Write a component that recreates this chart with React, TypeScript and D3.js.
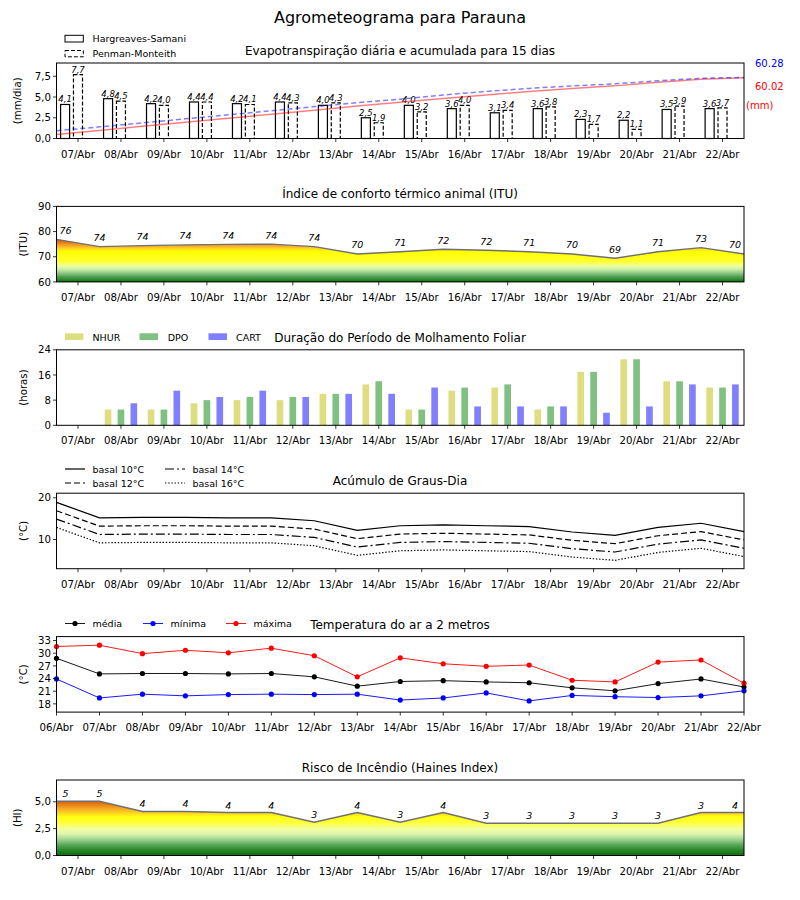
import React from 'react';
import * as d3 from 'd3';

// ---- data ----
const dayLabels = ['07/Abr', '08/Abr', '09/Abr', '10/Abr', '11/Abr', '12/Abr', '13/Abr', '14/Abr',
  '15/Abr', '16/Abr', '17/Abr', '18/Abr', '19/Abr', '20/Abr', '21/Abr', '22/Abr'];
const tempDayLabels = ['06/Abr', '07/Abr', '08/Abr', '09/Abr', '10/Abr', '11/Abr', '12/Abr', '13/Abr', '14/Abr',
  '15/Abr', '16/Abr', '17/Abr', '18/Abr', '19/Abr', '20/Abr', '21/Abr', '22/Abr'];

const etHS = [4.1, 4.8, 4.2, 4.4, 4.2, 4.4, 4.0, 2.5, 4.0, 3.6, 3.1, 3.6, 2.3, 2.2, 3.5, 3.6];
const etPM = [7.7, 4.5, 4.0, 4.4, 4.1, 4.3, 4.3, 1.9, 3.2, 4.0, 3.4, 3.8, 1.7, 1.1, 3.9, 3.7];
const accHS = [4.0, 8.0, 12.0, 16.0, 20.0, 24.0, 28.0, 32.0, 35.8, 39.5, 43.0, 46.5, 49.5, 52.0, 55.5, 58.5, 60.02];
const accPM = [7.6, 11.5, 15.5, 19.5, 23.5, 27.5, 31.5, 35.5, 38.8, 43.0, 46.5, 49.5, 52.0, 54.0, 57.0, 59.5, 60.28];
const accTotalHS = '60.02';
const accTotalPM = '60.28';
const etTicks = [0, 2.5, 5, 7.5];

const itu = [76.9, 74.0, 74.4, 74.7, 74.9, 75.0, 74.0, 71.1, 72.0, 73.0, 72.6, 72.0, 71.1, 69.4, 72.0, 73.6, 71.1];
const ituLabels = [76, 74, 74, 74, 74, 74, 74, 70, 71, 72, 72, 71, 70, 69, 71, 73, 70];
const ituTicks = [60, 70, 80, 90];

const nhur = [0, 5, 5, 7, 8, 8, 10, 13, 5, 11, 12, 5, 17, 21, 14, 12];
const dpo = [0, 5, 5, 8, 9, 9, 10, 14, 5, 12, 13, 6, 17, 21, 14, 12];
const cart = [0, 7, 11, 9, 11, 9, 10, 10, 12, 6, 6, 6, 4, 6, 13, 13];
const wetTicks = [0, 8, 16, 24];

const gd10 = [18.9, 15.2, 15.3, 15.3, 15.2, 15.2, 14.5, 12.2, 13.3, 13.5, 13.3, 13.1, 11.8, 11.0, 12.9, 13.9, 11.9];
const gd12 = [16.9, 13.2, 13.3, 13.3, 13.2, 13.2, 12.5, 10.2, 11.3, 11.5, 11.3, 11.1, 9.8, 9.0, 10.9, 11.9, 9.9];
const gd14 = [14.9, 11.2, 11.3, 11.3, 11.2, 11.2, 10.5, 8.2, 9.3, 9.5, 9.3, 9.1, 7.8, 7.0, 8.9, 9.9, 7.9];
const gd16 = [12.9, 9.2, 9.3, 9.3, 9.2, 9.2, 8.5, 6.2, 7.3, 7.5, 7.3, 7.1, 5.8, 5.0, 6.9, 7.9, 5.9];
const gdTicks = [10, 20];

const tMean = [28.8, 25.1, 25.2, 25.2, 25.1, 25.2, 24.4, 22.2, 23.3, 23.5, 23.2, 23.0, 21.8, 21.1, 22.8, 23.9, 22.0];
const tMin = [23.9, 19.4, 20.3, 19.9, 20.2, 20.3, 20.2, 20.3, 18.9, 19.4, 20.6, 18.7, 20.0, 19.7, 19.5, 19.9, 21.1];
const tMax = [31.6, 31.9, 29.9, 30.7, 30.1, 31.2, 29.4, 24.4, 28.9, 27.5, 26.9, 27.2, 23.6, 23.2, 27.9, 28.4, 22.9];
const tempTicks = [18, 21, 24, 27, 30, 33];

const haines = [5.05, 5.05, 4.1, 4.1, 4.0, 4.0, 3.1, 4.0, 3.1, 4.0, 3.0, 3.0, 3.0, 3.0, 3.0, 4.0, 4.0];
const hainesLabels = [5, 5, 4, 4, 4, 4, 3, 4, 3, 4, 3, 3, 3, 3, 3, 3, 4];
const hainesTicks = [0, 2.5, 5];

const ituStops: [number, string][] = [
  [60, '#0d6b0d'], [61, '#2f8a2f'], [62, '#4e9e4e'], [63, '#78b878'], [64, '#a3d68f'],
  [65, '#c9eea5'], [66, '#e6fba5'], [67, '#f6ff7a'], [68, '#ffff30'], [72, '#ffff00'],
  [73, '#fde01a'], [74, '#f7b52a'], [75, '#f0951c'], [76, '#e4700f'], [77, '#d8500a'], [90, '#c03000'],
];
const hainesStops: [number, string][] = [
  [0, '#0d6b0d'], [0.5, '#2a862a'], [1.0, '#5aa85a'], [1.5, '#9fd490'], [2.0, '#dcf5b0'],
  [2.5, '#f5ffa0'], [3.0, '#ffff40'], [3.6, '#ffff10'], [4.0, '#fcd020'], [4.4, '#f3a523'],
  [4.8, '#e57a14'], [5.1, '#d85a0c'], [7, '#c04000'],
];

// ---- layout ----
const FONT = 'DejaVu Sans, Verdana, sans-serif';
const X0 = 56.5;
const X1 = 744;
const PH = 75.5;
const TOPS = [63, 206.4, 349.8, 493.2, 636.6, 780];
const x = d3.scaleLinear().domain([0, 16]).range([X0, X1]);
const comma = (v: number) => d3.format('.1f')(v).replace('.', ',');

const Frame = ({ top }: { top: number }) => (
  <rect x={X0} y={top} width={X1 - X0} height={PH} fill="none" stroke="#000" strokeWidth={1} />
);

const XAxis = ({ top, positions, labels }: { top: number; positions: number[]; labels: string[] }) => {
  const y0 = top + PH;
  return (
    <g>
      {positions.map((p, i) => (
        <g key={i}>
          <line x1={x(p)} x2={x(p)} y1={y0} y2={y0 + 3.5} stroke="#000" strokeWidth={0.8} />
          <text x={x(p)} y={y0 + 19} textAnchor="middle" fontSize={10.2}>{labels[i]}</text>
        </g>
      ))}
    </g>
  );
};

const YAxis = ({ y, ticks, fmt, label, labelX }: {
  y: d3.ScaleLinear<number, number>; ticks: number[]; fmt: (v: number) => string; label: string; labelX: number;
}) => {
  const [b, t] = y.range();
  return (
    <g>
      {ticks.map((v, i) => (
        <g key={i}>
          <line x1={X0 - 3.5} x2={X0} y1={y(v)} y2={y(v)} stroke="#000" strokeWidth={0.8} />
          <text x={X0 - 5.5} y={y(v)} dy="0.36em" textAnchor="end" fontSize={10.2}>{fmt(v)}</text>
        </g>
      ))}
      <text transform={`translate(${labelX},${(b + t) / 2}) rotate(-90)`} textAnchor="middle" fontSize={10.2}>{label}</text>
    </g>
  );
};

const Title = ({ top, text }: { top: number; text: string }) => (
  <text x={400} y={top - 8} textAnchor="middle" fontSize={12}>{text}</text>
);

const Gradient = ({ id, y, stops }: { id: string; y: d3.ScaleLinear<number, number>; stops: [number, string][] }) => {
  const [d0, d1] = y.domain();
  return (
    <linearGradient id={id} gradientUnits="userSpaceOnUse" x1={0} x2={0} y1={y(d0)} y2={y(d1)}>
      {stops.map(([v, c], i) => (
        <stop key={i} offset={(v - d0) / (d1 - d0)} stopColor={c} />
      ))}
    </linearGradient>
  );
};

const labelX = (i: number) => Math.min(Math.max(x(i), X0 + 9), X1 - 9);

export default function App() {
  const dayPos = dayLabels.map((_, i) => i + 0.5);

  // panel 1
  const yEt = d3.scaleLinear().domain([0, 9.1]).range([TOPS[0] + PH, TOPS[0]]);
  const yAcc = d3.scaleLinear().domain([0, 74.6]).range([TOPS[0] + PH, TOPS[0]]);
  const bw1 = x(0.21) - x(0);
  const accLine = d3.line<number>().x((_, i) => x(i)).y(d => yAcc(d));

  // panel 2
  const yItu = d3.scaleLinear().domain([60, 90]).range([TOPS[1] + PH, TOPS[1]]);
  const ituArea = d3.area<number>().x((_, i) => x(i)).y0(yItu(60)).y1(d => yItu(d));
  const ituLine = d3.line<number>().x((_, i) => x(i)).y(d => yItu(d));

  // panel 3
  const yWet = d3.scaleLinear().domain([0, 24]).range([TOPS[2] + PH, TOPS[2]]);
  const bw3 = x(0.155) - x(0);
  const wetSeries = [
    { vals: nhur, off: 0.2, color: '#dede80', name: 'NHUR' },
    { vals: dpo, off: 0.5, color: '#80c080', name: 'DPO' },
    { vals: cart, off: 0.8, color: '#8080ff', name: 'CART' },
  ];

  // panel 4
  const yGd = d3.scaleLinear().domain([3.0, 21.1]).range([TOPS[3] + PH, TOPS[3]]);
  const gdLine = d3.line<number>().x((_, i) => x(i)).y(d => yGd(d));
  const gdSeries = [
    { vals: gd10, dash: undefined, name: 'basal 10°C', lx: 65, ly: 469 },
    { vals: gd12, dash: '6,3', name: 'basal 12°C', lx: 65, ly: 483 },
    { vals: gd14, dash: '9,3,2,3', name: 'basal 14°C', lx: 165, ly: 469 },
    { vals: gd16, dash: '1.4,1.8', name: 'basal 16°C', lx: 165, ly: 483 },
  ];

  // panel 5
  const yT = d3.scaleLinear().domain([16.05, 33.94]).range([TOPS[4] + PH, TOPS[4]]);
  const tLine = d3.line<number>().x((_, i) => x(i)).y(d => yT(d));
  const tSeries = [
    { vals: tMean, color: '#000000', name: 'média', lx: 65 },
    { vals: tMin, color: '#0000ff', name: 'mínima', lx: 143 },
    { vals: tMax, color: '#ff0000', name: 'máxima', lx: 226 },
  ];

  // panel 6
  const yH = d3.scaleLinear().domain([0, 7.03]).range([TOPS[5] + PH, TOPS[5]]);
  const hArea = d3.area<number>().x((_, i) => x(i)).y0(yH(0)).y1(d => yH(d));
  const hLine = d3.line<number>().x((_, i) => x(i)).y(d => yH(d));

  return (
    <div style={{ position: 'absolute', left: 0, top: 0 }}>
      <svg width={800} height={900} fontFamily={FONT} style={{ display: 'block', background: '#fff' }}>
        <defs>
          <Gradient id="gItu" y={yItu} stops={ituStops} />
          <Gradient id="gHaines" y={yH} stops={hainesStops} />
        </defs>
        <text x={400} y={23} textAnchor="middle" fontSize={16}>Agrometeograma para Parauna</text>

        {/* ---- Evapotranspiração ---- */}
        <Title top={TOPS[0]} text="Evapotranspiração diária e acumulada para 15 dias" />
        <g>
          <rect x={65} y={35.3} width={18.3} height={6.7} fill="#fff" stroke="#000" strokeWidth={1} />
          <text x={92.5} y={41.8} fontSize={9.5}>Hargreaves-Samani</text>
          <rect x={65} y={50.5} width={18.3} height={6.3} fill="#fff" stroke="#000" strokeWidth={1} strokeDasharray="4,2" />
          <text x={92.5} y={56.8} fontSize={9.5}>Penman-Monteith</text>
        </g>
        {etHS.map((v, i) => (
          <g key={'hs' + i}>
            <rect x={x(i + 0.2) - bw1 / 2} y={yEt(v)} width={bw1} height={yEt(0) - yEt(v)} fill="#fff" stroke="#000" strokeWidth={1.2} />
            <text x={x(i + 0.2)} y={yEt(v) - 2} textAnchor="middle" fontSize={8.5} fontStyle="italic">{comma(v)}</text>
          </g>
        ))}
        {etPM.map((v, i) => (
          <g key={'pm' + i}>
            <rect x={x(i + 0.5) - bw1 / 2} y={yEt(v)} width={bw1} height={yEt(0) - yEt(v)} fill="#fff" stroke="#000" strokeWidth={1.2} strokeDasharray="4,2" />
            <text x={x(i + 0.5)} y={yEt(v) - 2} textAnchor="middle" fontSize={8.5} fontStyle="italic">{comma(v)}</text>
          </g>
        ))}
        <path d={accLine(accHS) || ''} fill="none" stroke="#ff0000" strokeOpacity={0.5} strokeWidth={1.5} />
        <path d={accLine(accPM) || ''} fill="none" stroke="#0000ff" strokeOpacity={0.5} strokeWidth={1.5} strokeDasharray="5,3" />
        <text x={755} y={67} fontSize={10} fill="#0000ff">{accTotalPM}</text>
        <text x={755} y={90} fontSize={10} fill="#ff0000">{accTotalHS}</text>
        <text x={746} y={109} fontSize={10} fill="#ff0000">(mm)</text>
        <Frame top={TOPS[0]} />
        <YAxis y={yEt} ticks={etTicks} fmt={comma} label="(mm/dia)" labelX={21} />
        <XAxis top={TOPS[0]} positions={dayPos} labels={dayLabels} />

        {/* ---- ITU ---- */}
        <Title top={TOPS[1]} text="Índice de conforto térmico animal (ITU)" />
        <path d={ituArea(itu) || ''} fill="url(#gItu)" />
        <path d={ituLine(itu) || ''} fill="none" stroke="#707070" strokeWidth={1.4} />
        {itu.map((v, i) => (
          <text key={i} x={labelX(i)} y={yItu(v) - 5.5} textAnchor="middle" fontSize={9.5} fontStyle="italic">{ituLabels[i]}</text>
        ))}
        <Frame top={TOPS[1]} />
        <YAxis y={yItu} ticks={ituTicks} fmt={v => String(v)} label="(ITU)" labelX={27} />
        <XAxis top={TOPS[1]} positions={dayPos} labels={dayLabels} />

        {/* ---- Molhamento ---- */}
        <Title top={TOPS[2]} text="Duração do Período de Molhamento Foliar" />
        {[{ px: 65, tx: 92.5 }, { px: 139.5, tx: 167.7 }, { px: 208.5, tx: 236 }].map((p, i) => (
          <g key={i}>
            <rect x={p.px} y={333.3} width={18.5} height={6.7} fill={wetSeries[i].color} />
            <text x={p.tx} y={340.5} fontSize={9.5}>{wetSeries[i].name}</text>
          </g>
        ))}
        {wetSeries.map(s => s.vals.map((v, i) => (
          <rect key={s.name + i} x={x(i + s.off) - bw3 / 2} y={yWet(v)} width={bw3} height={yWet(0) - yWet(v)} fill={s.color} />
        )))}
        <Frame top={TOPS[2]} />
        <YAxis y={yWet} ticks={wetTicks} fmt={v => String(v)} label="(horas)" labelX={27} />
        <XAxis top={TOPS[2]} positions={dayPos} labels={dayLabels} />

        {/* ---- Graus-Dia ---- */}
        <Title top={TOPS[3]} text="Acúmulo de Graus-Dia" />
        {gdSeries.map(s => (
          <g key={s.name}>
            <path d={gdLine(s.vals) || ''} fill="none" stroke="#000" strokeWidth={1.2} strokeDasharray={s.dash} />
            <line x1={s.lx} x2={s.lx + 20} y1={s.ly} y2={s.ly} stroke="#000" strokeWidth={1.2} strokeDasharray={s.dash} />
            <text x={s.lx + 27.5} y={s.ly + 3.5} fontSize={9.5}>{s.name}</text>
          </g>
        ))}
        <Frame top={TOPS[3]} />
        <YAxis y={yGd} ticks={gdTicks} fmt={v => String(v)} label="(°C)" labelX={27} />
        <XAxis top={TOPS[3]} positions={dayPos} labels={dayLabels} />

        {/* ---- Temperatura ---- */}
        <Title top={TOPS[4]} text="Temperatura do ar a 2 metros" />
        {tSeries.map(s => (
          <g key={s.name}>
            <path d={tLine(s.vals) || ''} fill="none" stroke={s.color} strokeWidth={0.9} />
            {s.vals.map((v, i) => (
              <circle key={i} cx={x(i)} cy={yT(v)} r={2.6} fill={s.color} />
            ))}
            <line x1={s.lx} x2={s.lx + 20} y1={623.5} y2={623.5} stroke={s.color} strokeWidth={0.9} />
            <circle cx={s.lx + 10} cy={623.5} r={2.6} fill={s.color} />
            <text x={s.lx + 27.5} y={627} fontSize={9.5}>{s.name}</text>
          </g>
        ))}
        <Frame top={TOPS[4]} />
        <YAxis y={yT} ticks={tempTicks} fmt={v => String(v)} label="(°C)" labelX={27} />
        <XAxis top={TOPS[4]} positions={tempDayLabels.map((_, i) => i)} labels={tempDayLabels} />

        {/* ---- Haines ---- */}
        <Title top={TOPS[5]} text="Risco de Incêndio (Haines Index)" />
        <path d={hArea(haines) || ''} fill="url(#gHaines)" />
        <path d={hLine(haines) || ''} fill="none" stroke="#707070" strokeWidth={1.4} />
        {haines.map((v, i) => (
          <text key={i} x={labelX(i)} y={yH(v) - 4} textAnchor="middle" fontSize={9.5} fontStyle="italic">{hainesLabels[i]}</text>
        ))}
        <Frame top={TOPS[5]} />
        <YAxis y={yH} ticks={hainesTicks} fmt={comma} label="(HI)" labelX={21} />
        <XAxis top={TOPS[5]} positions={dayPos} labels={dayLabels} />
      </svg>
    </div>
  );
}
